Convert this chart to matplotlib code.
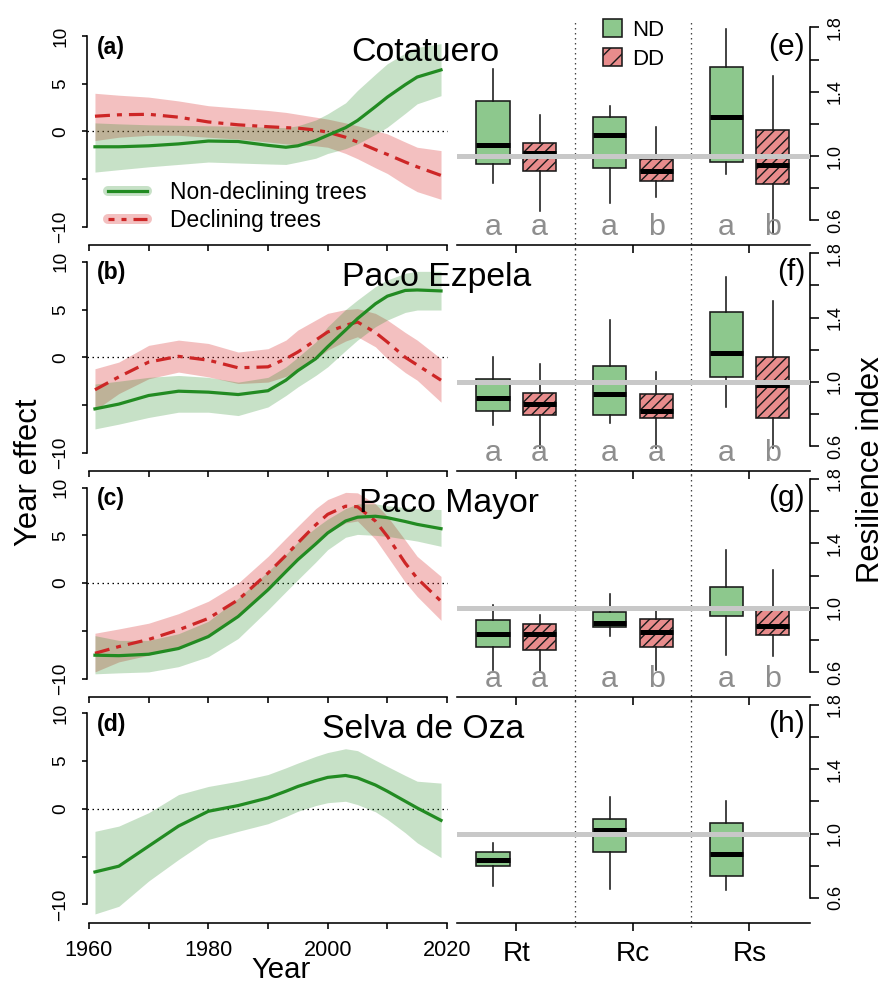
import matplotlib
matplotlib.use('Agg')
import matplotlib.pyplot as plt
from matplotlib.lines import Line2D
from matplotlib.patches import Patch

DPI = 156
W, H = 887, 984


def P(px):
    return px * 72.0 / DPI


plt.rcParams['font.family'] = ['Liberation Sans', 'DejaVu Sans']
plt.rcParams['hatch.linewidth'] = P(1.4)
plt.rcParams['lines.scale_dashes'] = False

# ---------------- data ----------------
years = [1961, 1965, 1970, 1975, 1980, 1985, 1990, 1993, 1995, 1998,
         2000, 2003, 2005, 2008, 2010, 2013, 2015, 2019]

sites = ["Cotatuero", "Paco Ezpela", "Paco Mayor", "Selva de Oza"]
left_tags = ["(a)", "(b)", "(c)", "(d)"]
right_tags = ["(e)", "(f)", "(g)", "(h)"]

# Year effect, non-declining trees (mean, upper, lower)
nd_mean_a = [-1.6, -1.6, -1.5, -1.3, -1.0, -1.05, -1.45, -1.65, -1.5, -0.95, -0.4, 0.4, 1.15, 2.6, 3.6, 4.9, 5.7, 6.45]
nd_up_a = [0.9, 0.8, 0.7, 0.65, 0.6, 0.55, 0.45, 0.4, 0.6, 1.2, 1.85, 3.0, 4.3, 6.0, 7.1, 8.2, 8.8, 9.2]
nd_lo_a = [-4.25, -4.0, -3.7, -3.45, -3.2, -3.3, -3.4, -3.45, -3.2, -2.8, -2.3, -1.8, -1.3, -0.3, 0.45, 1.9, 2.9, 3.75]
dd_mean_a = [1.6, 1.75, 1.8, 1.5, 1.0, 0.7, 0.5, 0.4, 0.35, 0.15, -0.07, -0.6, -1.1, -1.9, -2.4, -3.2, -3.7, -4.6]
dd_up_a = [4.0, 3.8, 3.6, 3.2, 2.7, 2.45, 2.2, 2.0, 1.8, 1.5, 1.3, 0.9, 0.6, 0.1, -0.25, -1.1, -1.65, -2.0]
dd_lo_a = [-0.95, -0.6, -0.4, -0.4, -0.6, -0.8, -1.1, -1.3, -1.4, -1.5, -1.65, -2.3, -2.85, -3.8, -4.4, -5.6, -6.3, -7.1]

nd_mean_b = [-5.4, -4.9, -4.0, -3.55, -3.65, -3.9, -3.5, -2.4, -1.4, -0.15, 1.1, 2.85, 4.05, 5.6, 6.4, 7.0, 7.05, 6.95]
nd_up_b = [-2.8, -2.5, -2.1, -1.9, -2.1, -2.6, -2.1, -1.0, 0.0, 1.6, 3.2, 5.0, 6.0, 7.4, 8.1, 8.8, 9.0, 9.0]
nd_lo_b = [-7.5, -7.0, -6.3, -5.75, -5.75, -6.1, -5.2, -4.0, -3.1, -1.9, -1.0, 0.7, 1.8, 3.2, 3.9, 4.7, 4.95, 4.95]
dd_mean_b = [-3.4, -2.05, -0.5, 0.1, -0.3, -1.1, -1.0, -0.15, 0.55, 1.8, 2.65, 3.35, 3.7, 2.6, 1.6, 0.0, -0.8, -2.4]
dd_up_b = [-1.2, -0.5, 1.25, 1.8, 1.45, 0.55, 0.9, 1.8, 2.85, 3.9, 4.6, 5.0, 5.1, 4.6, 3.9, 2.6, 1.8, -0.15]
dd_lo_b = [-5.55, -3.8, -2.25, -1.55, -2.05, -2.75, -2.6, -2.0, -1.35, -0.2, 0.75, 1.7, 2.15, 1.1, -0.15, -1.6, -2.4, -4.7]

nd_mean_c = [-7.55, -7.6, -7.45, -6.85, -5.6, -3.5, -0.7, 1.2, 2.45, 4.1, 5.25, 6.5, 6.9, 7.0, 6.85, 6.45, 6.15, 5.7]
nd_up_c = [-5.5, -6.0, -6.0, -5.3, -4.0, -1.6, 1.2, 3.0, 4.3, 5.8, 6.7, 7.8, 8.3, 8.3, 8.1, 7.9, 7.8, 7.7]
nd_lo_c = [-9.5, -9.4, -9.3, -8.75, -7.7, -5.8, -2.8, -0.9, 0.35, 2.2, 3.5, 4.8, 5.1, 5.0, 4.9, 4.6, 4.4, 3.85]
dd_mean_c = [-7.35, -6.65, -5.9, -4.9, -3.7, -1.75, 1.05, 2.9, 4.2, 6.1, 7.2, 8.05, 8.0, 6.5, 4.9, 2.1, 0.5, -1.9]
dd_up_c = [-5.25, -4.8, -4.2, -3.2, -1.9, 0.0, 2.8, 4.7, 5.95, 7.8, 8.75, 9.5, 9.45, 8.3, 7.0, 4.5, 2.8, 0.7]
dd_lo_c = [-9.3, -8.25, -7.55, -6.65, -5.45, -3.5, -0.7, 1.2, 2.45, 4.3, 5.25, 6.3, 6.5, 4.6, 2.8, 0.1, -1.4, -3.9]

nd_mean_d = [-6.6, -6.0, -3.9, -1.8, -0.25, 0.35, 1.15, 1.85, 2.35, 2.95, 3.3, 3.5, 3.25, 2.5, 1.85, 0.8, 0.1, -1.2]
nd_up_d = [-2.35, -1.8, -0.4, 1.5, 2.35, 2.9, 3.6, 4.3, 4.8, 5.5, 5.9, 6.3, 6.1, 5.1, 4.45, 3.5, 2.9, 2.7]
nd_lo_d = [-11.0, -10.2, -7.55, -5.3, -3.2, -2.35, -1.55, -0.8, -0.25, 0.35, 0.65, 0.8, 0.45, -0.3, -1.1, -2.5, -3.55, -5.1]

nd_means = [nd_mean_a, nd_mean_b, nd_mean_c, nd_mean_d]
nd_ups = [nd_up_a, nd_up_b, nd_up_c, nd_up_d]
nd_los = [nd_lo_a, nd_lo_b, nd_lo_c, nd_lo_d]
dd_means = [dd_mean_a, dd_mean_b, dd_mean_c, None]
dd_ups = [dd_up_a, dd_up_b, dd_up_c, None]
dd_los = [dd_lo_a, dd_lo_b, dd_lo_c, None]

# Resilience indices: [whisker low, Q1, median, Q3, whisker high] for Rt, Rc, Rs
indices = ["Rt", "Rc", "Rs"]
ND_e = [[0.83, 0.95, 1.07, 1.345, 1.54], [0.71, 0.926, 1.132, 1.242, 1.314], [0.886, 0.963, 1.242, 1.552, 1.79]]
DD_e = [[0.657, 0.907, 1.02, 1.08, 1.256], [0.746, 0.843, 0.905, 0.983, 1.18], [0.52, 0.824, 0.946, 1.163, 1.50]]
ND_f = [[0.735, 0.822, 0.90, 1.015, 1.155], [0.745, 0.797, 0.923, 1.097, 1.383], [0.845, 1.029, 1.18, 1.433, 1.652]]
DD_f = [[0.59, 0.793, 0.863, 0.934, 1.114], [0.59, 0.778, 0.822, 0.923, 1.062], [0.59, 0.776, 0.983, 1.153, 1.50]]
ND_g = [[0.61, 0.754, 0.837, 0.925, 1.015], [0.825, 0.883, 0.904, 0.975, 1.0875], [0.708, 0.946, 1.0, 1.127, 1.358]]
DD_g = [[0.60, 0.74, 0.837, 0.896, 0.956], [0.61, 0.754, 0.848, 0.931, 0.977], [0.698, 0.831, 0.885, 0.983, 1.233]]
ND_h = [[0.671, 0.795, 0.836, 0.888, 0.94], [0.656, 0.886, 1.019, 1.093, 1.23], [0.65, 0.733, 0.874, 1.068, 1.205]]
DD_h = None

ND_all = [ND_e, ND_f, ND_g, ND_h]
DD_all = [DD_e, DD_f, DD_g, DD_h]

letters_e = ['a', 'a', 'a', 'b', 'a', 'b']
letters_f = ['a', 'a', 'a', 'a', 'a', 'b']
letters_g = ['a', 'a', 'a', 'b', 'a', 'b']
letters_h = []
letters_all = [letters_e, letters_f, letters_g, letters_h]

year_ticks = [1960, 1970, 1980, 1990, 2000, 2010, 2020]
year_labels = ['1960', '', '1980', '', '2000', '', '2020']
ye_ticks = [-10, -5, 0, 5, 10]
ye_labels = ['\u221210', '', '0', '5', '10']
ri_ticks = [0.6, 0.8, 1.0, 1.2, 1.4, 1.6, 1.8]
ri_labels = ['0.6', '', '1.0', '', '1.4', '', '1.8']

# ---------------- styles ----------------
GREEN = '#228B22'
RED = '#CD2626'
GREEN_BAND = (0.16, 0.55, 0.16, 0.26)
RED_BAND = (0.86, 0.24, 0.24, 0.32)
BOX_GREEN = '#8DC88D'
BOX_RED = '#E88C8C'
EDGE = '#1A1A1A'
LETTER_GREY = '#8E8E8E'
DASHDOT = (0, (P(15), P(7), P(5), P(7)))
DOTTED = (0, (P(1.5), P(3.5)))
HATCH = '/////'

fig = plt.figure(figsize=((W + 0.01) / DPI, (H + 0.01) / DPI), dpi=DPI)


def rect(l, t, r, b):
    return [l / W, 1 - b / H, (r - l) / W, (b - t) / H]


def fx(px):
    return px / W


def fy(py):
    return 1 - py / H


YPX = 9.55
ZERO = [131.5 + 225.8 * k for k in range(4)]
title_cx = [425, 437, 449, 423]

nd_pos = [1, 3.5, 6]
dd_pos = [2, 4.5, 7]

for k in range(4):
    z = ZERO[k]
    top = z - 10.9 * YPX
    bot = z + 11.9 * YPX
    last = (k == 3)

    # ---------- left: year effect ----------
    axL = fig.add_axes(rect(87, top, 448, bot))
    axL.set_facecolor('none')
    axL.set_xlim(1959.665, 2020.17)
    axL.set_ylim(-11.9, 10.9)
    axL.axhline(0, color='black', lw=P(1.3), linestyle=DOTTED, zorder=1)
    if dd_means[k] is not None:
        axL.fill_between(years, dd_los[k], dd_ups[k], color=RED_BAND, lw=0, zorder=2)
    axL.fill_between(years, nd_los[k], nd_ups[k], color=GREEN_BAND, lw=0, zorder=2)
    if dd_means[k] is not None:
        axL.plot(years, dd_means[k], color=RED, lw=P(3.2), linestyle=DASHDOT, zorder=4)
    axL.plot(years, nd_means[k], color=GREEN, lw=P(3.2), zorder=4)
    for s in ['top', 'right']:
        axL.spines[s].set_visible(False)
    axL.spines['left'].set_bounds(-10, 10)
    axL.spines['bottom'].set_bounds(1960, 2020)
    for s in ['left', 'bottom']:
        axL.spines[s].set_linewidth(P(1.6))
    axL.set_yticks(ye_ticks)
    axL.set_yticklabels(ye_labels)
    axL.set_xticks(year_ticks)
    axL.set_xticklabels(year_labels if last else [''] * len(year_ticks))
    axL.tick_params(axis='y', labelrotation=90, length=P(5.5), width=P(1.6),
                    pad=P(12), labelsize=P(19))
    axL.tick_params(axis='x', length=P(6), width=P(1.6), pad=P(11), labelsize=P(21.6))
    for lab in axL.get_yticklabels():
        lab.set_verticalalignment('center')

    if k == 0:
        h1 = (Line2D([], [], color=GREEN_BAND, lw=P(10), solid_capstyle='round'),
              Line2D([], [], color=GREEN, lw=P(3.2)))
        h2 = (Line2D([], [], color=RED_BAND, lw=P(10), solid_capstyle='round'),
              Line2D([], [], color=RED, lw=P(3.2), linestyle=(P(9), (P(15), P(7), P(5), P(7)))))
        axL.legend([h1, h2], ["Non-declining trees", "Declining trees"],
                   loc='upper left', bbox_to_anchor=(fx(108), fy(181)),
                   bbox_transform=fig.transFigure, frameon=False,
                   fontsize=P(22.8), handlelength=1.71, handletextpad=1.0,
                   borderpad=0, borderaxespad=0, labelspacing=0.2)

    # ---------- right: resilience ----------
    axR = fig.add_axes(rect(457, top, 810, bot))
    axR.set_facecolor('none')
    axR.set_xlim(0.227, 7.80)
    axR.set_ylim(0.4466, 1.7988)

    common = dict(widths=0.71, patch_artist=True, showcaps=False, showfliers=False,
                  whiskerprops=dict(color=EDGE, linewidth=P(1.6), linestyle='-'),
                  medianprops=dict(color='black', linewidth=P(5), solid_capstyle='butt'),
                  manage_ticks=False, zorder=3)
    nd_stats = [dict(whislo=v[0], q1=v[1], med=v[2], q3=v[3], whishi=v[4], fliers=[])
                for v in ND_all[k]]
    axR.bxp(nd_stats, positions=nd_pos,
            boxprops=dict(facecolor=BOX_GREEN, edgecolor=EDGE, linewidth=P(1.6)), **common)
    if DD_all[k] is not None:
        dd_stats = [dict(whislo=v[0], q1=v[1], med=v[2], q3=v[3], whishi=v[4], fliers=[])
                    for v in DD_all[k]]
        axR.bxp(dd_stats, positions=dd_pos,
                boxprops=dict(facecolor=BOX_RED, edgecolor=EDGE, linewidth=P(1.6), hatch=HATCH),
                **common)

    axR.axhline(1.0, color='#C8C8C8', lw=P(5), zorder=6)
    for xv in [2.75, 5.25]:
        axR.axvline(xv, ymin=-0.02, ymax=1.03, clip_on=False, color='#444444',
                    lw=P(1.3), linestyle=DOTTED, zorder=1)

    pos_all = [1, 2, 3.5, 4.5, 6, 7]
    for p, let in zip(pos_all, letters_all[k]):
        axR.text(p, 0.507, let, ha='center', va='baseline', fontsize=P(30.5),
                 color=LETTER_GREY, zorder=7)

    for s in ['top', 'left']:
        axR.spines[s].set_visible(False)
    axR.spines['right'].set_bounds(0.6, 1.8)
    for s in ['right', 'bottom']:
        axR.spines[s].set_linewidth(P(1.6))
    axR.yaxis.tick_right()
    axR.set_yticks(ri_ticks)
    axR.set_yticklabels(ri_labels)
    axR.set_xticks([1.5, 4, 6.5])
    axR.set_xticklabels(indices if last else ['', '', ''])
    axR.tick_params(axis='y', labelrotation=90, length=P(9), width=P(1.6),
                    pad=P(8), labelsize=P(18))
    axR.tick_params(axis='x', length=P(7.5), width=P(1.6), pad=P(11), labelsize=P(28))
    for lab in axR.get_yticklabels():
        lab.set_verticalalignment('center')

    if k == 0:
        hnd = Patch(facecolor=BOX_GREEN, edgecolor=EDGE, linewidth=P(1.6))
        hdd = Patch(facecolor=BOX_RED, edgecolor=EDGE, linewidth=P(1.6), hatch='///')
        axR.legend([hnd, hdd], ["ND", "DD"], loc='upper left',
                   bbox_to_anchor=(fx(603), fy(19)), bbox_transform=fig.transFigure,
                   frameon=False, fontsize=P(22.2), handlelength=0.86, handleheight=0.86,
                   handletextpad=0.45, borderpad=0, borderaxespad=0, labelspacing=0.35)

    # panel labels and titles
    fig.text(fx(97), fy(z - 84.5), left_tags[k], fontweight='bold', fontsize=P(23),
             ha='left', va='center', zorder=10)
    fig.text(fx(805), fy(z - 85), right_tags[k], fontsize=P(30),
             ha='right', va='center', zorder=10)
    fig.text(fx(title_cx[k]), fy(z - 71), sites[k], fontsize=P(33.8),
             ha='center', va='baseline', zorder=10)

fig.text(fx(281), fy(978), "Year", fontsize=P(29.4), ha='center', va='baseline')
fig.text(fx(37), fy(472), "Year effect", fontsize=P(31), rotation=90,
         rotation_mode='anchor', ha='center', va='baseline')
fig.text(fx(879), fy(470), "Resilience index", fontsize=P(31), rotation=90,
         rotation_mode='anchor', ha='center', va='baseline')

fig.savefig('out.png', dpi=DPI)
